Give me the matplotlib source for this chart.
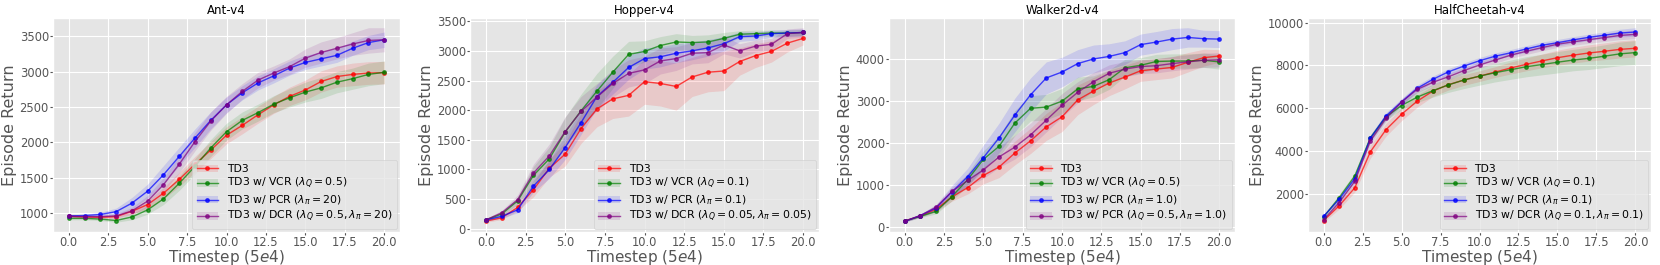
import matplotlib
matplotlib.use("Agg")
import matplotlib.pyplot as plt
import numpy as np

plt.style.use("ggplot")

steps = np.arange(21)

envs = ["Ant-v4", "Hopper-v4", "Walker2d-v4", "HalfCheetah-v4"]

# mean returns
ant_td3 = [955, 945, 940, 950, 1025, 1120, 1280, 1475, 1690, 1890, 2100, 2240, 2390, 2530, 2650, 2740, 2860, 2930, 2960, 2980, 2985]
ant_vcr = [925, 925, 915, 895, 945, 1045, 1200, 1420, 1660, 1920, 2150, 2310, 2420, 2540, 2630, 2710, 2770, 2850, 2900, 2960, 2990]
ant_pcr = [960, 965, 980, 1020, 1140, 1310, 1540, 1800, 2060, 2310, 2530, 2700, 2840, 2940, 3050, 3130, 3180, 3230, 3330, 3410, 3450]
ant_dcr = [955, 950, 950, 960, 1030, 1170, 1400, 1690, 2010, 2300, 2530, 2720, 2880, 2980, 3070, 3190, 3270, 3330, 3390, 3440, 3450]

hop_td3 = [130, 185, 360, 660, 1020, 1260, 1690, 2020, 2190, 2250, 2480, 2450, 2400, 2560, 2640, 2660, 2820, 2920, 2990, 3130, 3210]
hop_vcr = [150, 250, 470, 900, 1180, 1630, 1990, 2320, 2640, 2940, 2990, 3090, 3150, 3140, 3150, 3210, 3280, 3290, 3300, 3300, 3310]
hop_pcr = [150, 210, 320, 720, 1000, 1370, 1790, 2230, 2470, 2720, 2870, 2900, 2960, 3000, 3050, 3120, 3240, 3250, 3290, 3300, 3310]
hop_dcr = [150, 270, 490, 940, 1230, 1640, 1980, 2220, 2450, 2620, 2680, 2830, 2870, 2960, 2970, 3100, 3000, 3080, 3110, 3290, 3310]

walk_td3 = [150, 270, 430, 720, 940, 1230, 1430, 1760, 2050, 2380, 2620, 3020, 3230, 3420, 3560, 3710, 3750, 3790, 3910, 4020, 4060]
walk_vcr = [150, 260, 380, 730, 1130, 1610, 1920, 2470, 2820, 2850, 2990, 3280, 3340, 3500, 3780, 3840, 3930, 3940, 3940, 3960, 3920]
walk_pcr = [140, 280, 460, 840, 1200, 1650, 2120, 2660, 3140, 3540, 3680, 3880, 3990, 4050, 4140, 4330, 4390, 4460, 4500, 4470, 4460]
walk_dcr = [150, 280, 480, 850, 1110, 1360, 1670, 1900, 2190, 2540, 2890, 3200, 3450, 3650, 3750, 3810, 3830, 3880, 3920, 3960, 3970]

hc_td3 = [760, 1450, 2290, 3970, 5000, 5720, 6330, 6800, 7100, 7320, 7500, 7690, 7880, 8050, 8210, 8360, 8480, 8580, 8660, 8750, 8800]
hc_vcr = [930, 1830, 2840, 4620, 5600, 6130, 6520, 6820, 7090, 7320, 7500, 7660, 7800, 7940, 8040, 8150, 8250, 8330, 8430, 8540, 8600]
hc_pcr = [960, 1760, 2720, 4600, 5640, 6300, 6930, 7350, 7700, 7970, 8220, 8430, 8590, 8770, 8940, 9060, 9190, 9310, 9410, 9510, 9560]
hc_dcr = [800, 1600, 2590, 4480, 5530, 6290, 6880, 7210, 7470, 7760, 8020, 8250, 8480, 8660, 8830, 8990, 9100, 9200, 9300, 9400, 9450]

# half widths of the shaded bands
ant_td3_sd = [20, 20, 20, 25, 40, 60, 80, 100, 110, 120, 120, 120, 120, 120, 130, 140, 150, 150, 160, 160, 160]
ant_vcr_sd = [20, 20, 20, 25, 40, 60, 80, 100, 110, 120, 120, 120, 120, 120, 130, 140, 150, 150, 150, 160, 160]
ant_pcr_sd = [20, 20, 30, 50, 80, 100, 130, 130, 130, 120, 110, 100, 100, 100, 100, 100, 100, 100, 100, 100, 110]
ant_dcr_sd = [20, 20, 20, 30, 50, 80, 100, 120, 130, 130, 120, 110, 110, 100, 110, 130, 150, 150, 160, 180, 170]

hop_td3_sd = [20, 30, 60, 120, 150, 200, 250, 300, 330, 350, 380, 380, 400, 330, 330, 330, 230, 200, 180, 150, 110]
hop_vcr_sd = [20, 30, 60, 150, 200, 250, 280, 300, 270, 220, 180, 150, 140, 120, 120, 100, 60, 60, 50, 50, 50]
hop_pcr_sd = [20, 30, 50, 100, 150, 200, 200, 200, 200, 200, 180, 170, 160, 150, 140, 120, 80, 70, 60, 60, 60]
hop_dcr_sd = [20, 40, 80, 150, 200, 250, 250, 230, 230, 230, 230, 220, 200, 180, 170, 150, 120, 100, 100, 80, 80]

walk_td3_sd = [20, 30, 60, 100, 150, 200, 250, 280, 300, 320, 350, 350, 320, 300, 280, 250, 250, 250, 230, 200, 150]
walk_vcr_sd = [20, 30, 60, 100, 150, 200, 250, 300, 300, 300, 300, 280, 250, 230, 200, 180, 170, 170, 170, 170, 170]
walk_pcr_sd = [20, 40, 80, 150, 200, 300, 350, 400, 400, 380, 350, 330, 330, 300, 280, 250, 250, 250, 230, 200, 200]
walk_dcr_sd = [20, 30, 60, 100, 150, 200, 250, 280, 280, 280, 280, 250, 220, 200, 180, 170, 170, 170, 170, 170, 170]

hc_td3_sd = [80, 150, 200, 300, 300, 300, 280, 250, 250, 250, 250, 250, 280, 300, 320, 350, 370, 380, 390, 400, 400]
hc_vcr_sd = [80, 150, 150, 150, 150, 200, 250, 300, 350, 400, 420, 430, 450, 470, 480, 500, 500, 520, 530, 550, 560]
hc_pcr_sd = [60, 100, 120, 150, 150, 150, 150, 150, 150, 150, 150, 150, 150, 150, 150, 150, 150, 150, 150, 180, 200]
hc_dcr_sd = [60, 100, 120, 150, 150, 150, 150, 150, 150, 150, 150, 150, 150, 150, 150, 150, 160, 170, 180, 200, 200]

means = [
    [ant_td3, ant_vcr, ant_pcr, ant_dcr],
    [hop_td3, hop_vcr, hop_pcr, hop_dcr],
    [walk_td3, walk_vcr, walk_pcr, walk_dcr],
    [hc_td3, hc_vcr, hc_pcr, hc_dcr],
]
stds = [
    [ant_td3_sd, ant_vcr_sd, ant_pcr_sd, ant_dcr_sd],
    [hop_td3_sd, hop_vcr_sd, hop_pcr_sd, hop_dcr_sd],
    [walk_td3_sd, walk_vcr_sd, walk_pcr_sd, walk_dcr_sd],
    [hc_td3_sd, hc_vcr_sd, hc_pcr_sd, hc_dcr_sd],
]

labels = [
    ["TD3", r"TD3 w/ VCR ($\lambda_Q=0.5$)", r"TD3 w/ PCR ($\lambda_\pi=20$)",
     r"TD3 w/ DCR ($\lambda_Q=0.5, \lambda_\pi=20$)"],
    ["TD3", r"TD3 w/ VCR ($\lambda_Q=0.1$)", r"TD3 w/ PCR ($\lambda_\pi=0.1$)",
     r"TD3 w/ DCR ($\lambda_Q=0.05, \lambda_\pi=0.05$)"],
    ["TD3", r"TD3 w/ VCR ($\lambda_Q=0.5$)", r"TD3 w/ PCR ($\lambda_\pi=1.0$)",
     r"TD3 w/ PCR ($\lambda_Q=0.5, \lambda_\pi=1.0$)"],
    ["TD3", r"TD3 w/ VCR ($\lambda_Q=0.1$)", r"TD3 w/ PCR ($\lambda_\pi=0.1$)",
     r"TD3 w/ DCR ($\lambda_Q=0.1, \lambda_\pi=0.1$)"],
]
colors = ["red", "green", "blue", "purple"]

# axes boxes in pixels: left, right, top, bottom
boxes = [(53, 400, 18, 232), (470, 819, 18, 232), (889, 1235, 18, 232), (1308, 1651, 18, 232)]

W, H = 1660, 265
fig = plt.figure(figsize=(W / 100, H / 100), dpi=100)

for k in range(4):
    l, r, t, b = boxes[k]
    ax = fig.add_axes([l / W, 1 - b / H, (r - l) / W, (b - t) / H])
    handles = []
    for j in range(4):
        m = np.array(means[k][j])
        s = np.array(stds[k][j])
        line, = ax.plot(steps, m, "-o", color=colors[j], lw=1, ms=2.5, alpha=0.7)
        band = ax.fill_between(steps, m - s, m + s, color=colors[j], alpha=0.12, lw=0)
        handles.append((band, line))
    ax.set_title(envs[k], fontsize=8.5, pad=3)
    ax.set_xlabel("Timestep ($5e4$)", fontsize=11, labelpad=-0.5)
    ax.set_ylabel("Episode Return", fontsize=11.5, labelpad=2)
    ax.tick_params(labelsize=8.3, pad=1, length=2)
    ax.legend(handles, labels[k], loc="lower right", fontsize=7.8,
              labelspacing=0.2, borderaxespad=0.3, handlelength=2.0)

fig.savefig("out.png", dpi=100)
